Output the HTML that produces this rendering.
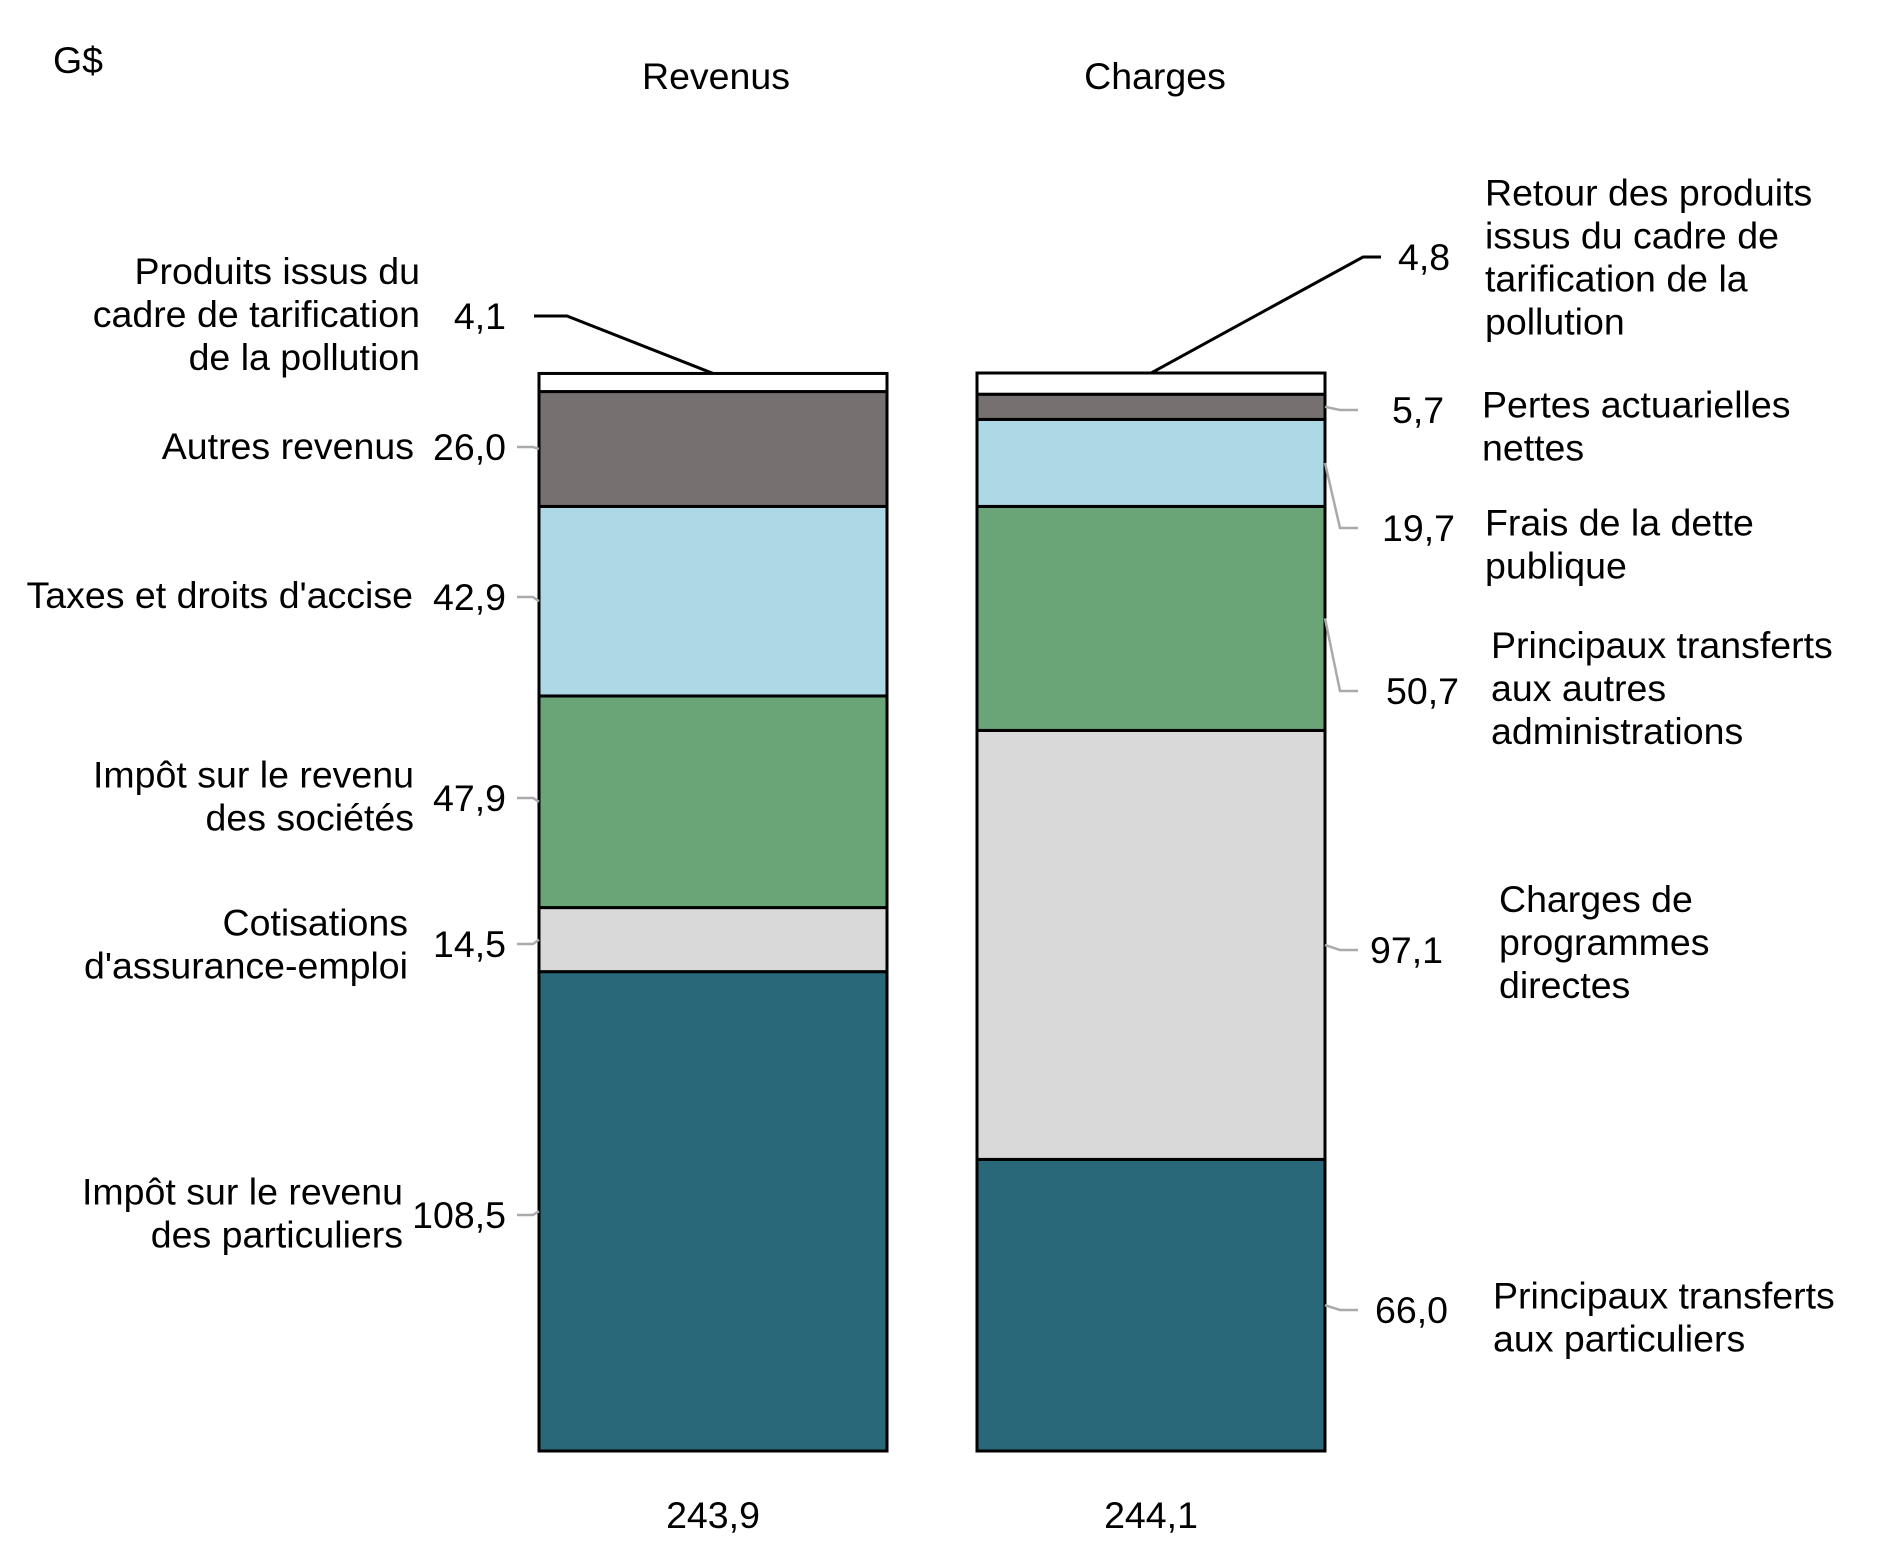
<!DOCTYPE html>
<html><head><meta charset="utf-8"><style>
html,body{margin:0;padding:0;background:#fff;}
svg{display:block;font-family:"Liberation Sans",Arial,sans-serif;}
text{font-size:37.5px;fill:#000;}
</style></head><body>
<svg id="chart" width="1881" height="1562" viewBox="0 0 1881 1562" xmlns="http://www.w3.org/2000/svg">
<text x="53" y="73" font-size="40">G$</text>
<text x="716" y="89" text-anchor="middle" font-size="46">Revenus</text>
<text x="1155" y="89" text-anchor="middle" font-size="46">Charges</text>
<g id="bars"></g>
<g id="labels"></g>
</svg>
<script>
const revCats = ["Impôt sur le revenu des particuliers","Cotisations d'assurance-emploi","Impôt sur le revenu des sociétés","Taxes et droits d'accise","Autres revenus","Produits issus du cadre de tarification de la pollution"];
const revValues = [108.5, 14.5, 47.9, 42.9, 26.0, 4.1];
const revTotal = "243,9";
const chgCats = ["Principaux transferts aux particuliers","Charges de programmes directes","Principaux transferts aux autres administrations","Frais de la dette publique","Pertes actuarielles nettes","Retour des produits issus du cadre de tarification de la pollution"];
const chgValues = [66.0, 97.1, 50.7, 19.7, 5.7, 4.8];
const chgTotal = "244,1";
const colors = ["#286878","#d9d9d9","#6aa577","#add8e6","#767170","#ffffff"];
const revLabelLines = [["Impôt sur le revenu","des particuliers"],["Cotisations","d'assurance-emploi"],["Impôt sur le revenu","des sociétés"],["Taxes et droits d'accise"],["Autres revenus"],["Produits issus du","cadre de tarification","de la pollution"]];
const chgLabelLines = [["Principaux transferts","aux particuliers"],["Charges de","programmes","directes"],["Principaux transferts","aux autres","administrations"],["Frais de la dette","publique"],["Pertes actuarielles","nettes"],["Retour des produits","issus du cadre de","tarification de la","pollution"]];
const revLabelY = [1215, 944, 798, 597, 447, 316];
const chgLabelY = [1310, 950, 691, 528, 410, 257];
const revTextX = [403, 408, 414, 413, 414, 420];
const revTextY = [1213, 944, 796, 595, 446, 314];
const chgTextX = [1501, 1507, 1499, 1493, 1490, 1493];
const chgTextX2 = chgTextX.map(v=>v-8);
const chgTextY = [1317, 942, 688, 544, 426, 257];
const chgValX = [1375, 1370, 1386, 1382, 1392, 1398];

const NS="http://www.w3.org/2000/svg";
const base=1451, pxPerUnit=4.418;
const y=v=>base-v*pxPerUnit;
const bars=document.getElementById('bars'), labels=document.getElementById('labels');
function mk(tag,attrs,parent){const e=document.createElementNS(NS,tag);for(const k in attrs)e.setAttribute(k,attrs[k]);parent.appendChild(e);return e;}
const fmt=v=>v.toFixed(1).replace('.',',');

function drawStack(values,x0,w,side,cats,lines,labY,total){
  let cum=0;
  values.forEach((v,i)=>{
    const top=y(cum+v), bot=y(cum);
    const r=mk('rect',{x:x0,y:top,width:w,height:bot-top,fill:colors[i],stroke:'#000','stroke-width':3},bars);
    
    
    const mid=(top+bot)/2;
    const isTop=i===values.length-1;
    let path;
    if(side==='revenus'){
      if(isTop) path=`M${x0+w/2},${top} L567,${labY[i]} L534,${labY[i]}`;
      else path=`M${x0},${mid} L${x0-6},${labY[i]} L${x0-22},${labY[i]}`;
    } else {
      if(isTop) path=`M${x0+w/2},${top} L1363,${labY[i]} L1381,${labY[i]}`;
      else path=`M${x0+w},${mid} L${x0+w+15},${labY[i]} L${x0+w+33},${labY[i]}`;
    }
    const ln=mk('path',{d:path,fill:'none',stroke:isTop?'#000':'#aaa','stroke-width':isTop?3:2.5},labels);
    
    
    const t=mk('text',{x:side==='revenus'?506:chgValX[i],y:labY[i]+13,'text-anchor':side==='revenus'?'end':'start'},labels);
    t.textContent=fmt(v);
    
    
    const L=lines[i];
    const tx=side==='revenus'?revTextX[i]:chgTextX2[i];
    const cy=side==='revenus'?revTextY[i]:chgTextY[i];
    const cat=mk('text',{x:tx,'text-anchor':side==='revenus'?'end':'start'},labels);
    
    
    L.forEach((s,j)=>{const ts=mk('tspan',{x:tx,y:cy+13+(j-(L.length-1)/2)*43},cat);ts.textContent=s;});
    cum+=v;
  });
  const tt=mk('text',{x:x0+w/2,y:1528,'text-anchor':'middle'},labels);
  tt.textContent=total;
  
  
}
drawStack(revValues,539,348,'revenus',revCats,revLabelLines,revLabelY,revTotal);
drawStack(chgValues,977,348,'charges',chgCats,chgLabelLines,chgLabelY,chgTotal);
</script>
</body></html>
